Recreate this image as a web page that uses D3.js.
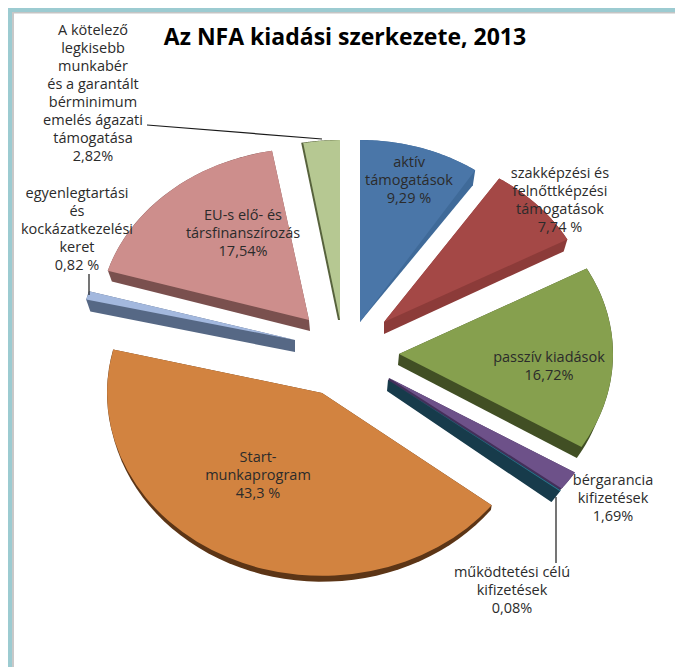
<!DOCTYPE html>
<html>
<head>
<meta charset="utf-8">
<script src="https://cdn.jsdelivr.net/npm/d3@7"></script>
<style>
body { margin: 0; background: #fff; }
text { font-family: "Open Sans", sans-serif; fill: #2b2b2b; }
</style>
</head>
<body>
<script>
var title = "Az NFA kiadási szerkezete, 2013";

var categories = ["aktív támogatások", "szakképzési és felnőttképzési támogatások", "passzív kiadások",
    "bérgarancia kifizetések", "működtetési célú kifizetések", "Start-munkaprogram",
    "egyenlegtartási és kockázatkezelési keret", "EU-s elő- és társfinanszírozás",
    "A kötelező legkisebb munkabér és a garantált bérminimum emelés ágazati támogatása"];
var values = [9.29, 7.74, 16.72, 1.69, 0.08, 43.3, 0.82, 17.54, 2.82];
var valueLabels = ["9,29 %", "7,74 %", "16,72%", "1,69%", "0,08%", "43,3 %", "0,82 %", "17,54%", "2,82%"];
var labelLines = [
    ["aktív", "támogatások"],
    ["szakképzési és", "felnőttképzési", "támogatások"],
    ["passzív kiadások"],
    ["bérgarancia", "kifizetések"],
    ["működtetési célú", "kifizetések"],
    ["Start-", "munkaprogram"],
    ["egyenlegtartási", "és", "kockázatkezelési", "keret"],
    ["EU-s elő- és", "társfinanszírozás"],
    ["A kötelező", "legkisebb", "munkabér", "és a garantált", "bérminimum", "emelés ágazati", "támogatása"]
];
var topColors = ["#4a76a8", "#a44846", "#86a04e", "#6d5189", "#2c7a92", "#d28340", "#a3b8de", "#cd8e8c", "#b6c892"];
var sideColors = ["#3f6a99", "#8c3b39", "#414f24", "#43305a", "#173b4b", "#5c3516", "#566885", "#7a504e", "#57623c"];

// every slice was pulled out by hand in the original, so each one has its own tilted ellipse
var layout = [
    { x: 360, y: 322, rx: 209, ry: 182, dx: 0, dy: 0, sx: 0.98, sy: 0.9, lx: 409, ly: 167 },
    { x: 384, y: 322, rx: 209, ry: 172, dx: 0, dy: 12, sx: 0.98, sy: 1, lx: 560, ly: 178 },
    { x: 399, y: 354, rx: 214, ry: 178, dx: -1, dy: 11, sx: 0.98, sy: 1, lx: 549, ly: 362 },
    { x: 389, y: 378, rx: 218, ry: 181, dx: -1, dy: 3, sx: 0.99, sy: 1, lx: 613, ly: 485 },
    { x: 388, y: 380, rx: 218, ry: 181, dx: -1, dy: 11, sx: 0.955, sy: 1, lx: 512, ly: 577 },
    { x: 322, y: 393, rx: 215, ry: 183, dx: 0, dy: 3, sx: 0.995, sy: 1.015, lx: 258, ly: 462 },
    { x: 295, y: 340, rx: 215, ry: 170, dx: 0, dy: 12, sx: 0.98, sy: 1, lx: 77, ly: 198 },
    { x: 309, y: 320, rx: 210, ry: 172, dx: 1, dy: 11, sx: 0.985, sy: 1, lx: 243, ly: 220 },
    { x: 340, y: 320, rx: 209, ry: 180, dx: -2, dy: 0, sx: 1, sy: 1, lx: 93, ly: 35 }
];
var leaders = [
    { i: 8, x1: 147, y1: 125, x2: 322, y2: 139 },
    { i: 6, x1: 89, y1: 274, x2: 89, y2: 295 },
    { i: 4, x1: 556, y1: 497, x2: 556, y2: 563 }
];

var width = 675, height = 667, lineHeight = 18;

var svg = d3.select("body").append("svg")
    .attr("width", width)
    .attr("height", height)
    .style("display", "block");

// page frame of the slide screenshot
svg.append("rect").attr("x", 8).attr("y", 8).attr("width", width - 8).attr("height", 4).attr("fill", "#9ccbd1");
svg.append("rect").attr("x", 8).attr("y", 8).attr("width", 4).attr("height", height - 8).attr("fill", "#9ccbd1");
svg.append("rect").attr("x", 12).attr("y", 12).attr("width", width - 12).attr("height", 1.5).attr("fill", "#c4c4c4");
svg.append("rect").attr("x", 12).attr("y", 12).attr("width", 2).attr("height", height - 12).attr("fill", "#c8c8c8");

var pie = d3.pie().sort(null);
var arcs = pie(values);
var unitArc = d3.arc().innerRadius(0).outerRadius(1);

// apex and rim of a wedge, on its own ellipse, for the top (t = 0) or the lower copy (t = 1)
function wedgePoints(d, p, t) {
    var cx = p.x + p.dx * t, cy = p.y + p.dy * t;
    var rx = p.rx * (1 + (p.sx - 1) * t), ry = p.ry * (1 + (p.sy - 1) * t);
    var pts = [[cx, cy]];
    d3.range(0, 1.0001, 0.02).forEach(function (f) {
        var a = d.startAngle + (d.endAngle - d.startAngle) * f;
        pts.push([cx + rx * Math.sin(a), cy - ry * Math.cos(a)]);
    });
    return pts;
}

var slices = svg.selectAll("g.slice")
    .data(arcs)
    .enter().append("g")
    .attr("class", "slice");

// side wall: hull of the wedge and its lower copy, top face goes over it
slices.append("path")
    .attr("d", function (d, i) {
        return "M" + d3.polygonHull(wedgePoints(d, layout[i], 0).concat(wedgePoints(d, layout[i], 1))).join("L") + "Z";
    })
    .attr("fill", function (d, i) { return sideColors[i]; });

slices.append("path")
    .attr("d", unitArc)
    .attr("fill", function (d, i) { return topColors[i]; })
    .attr("transform", function (d, i) {
        var p = layout[i];
        return "translate(" + p.x + "," + p.y + ") scale(" + p.rx + "," + p.ry + ")";
    });

svg.selectAll("line.leader")
    .data(leaders)
    .enter().append("line")
    .attr("class", "leader")
    .attr("x1", function (d) { return d.x1; })
    .attr("y1", function (d) { return d.y1; })
    .attr("x2", function (d) { return d.x2; })
    .attr("y2", function (d) { return d.y2; })
    .attr("stroke", "#1a1a1a")
    .attr("stroke-width", 1.2);

svg.append("text")
    .attr("x", 345)
    .attr("y", 45)
    .attr("text-anchor", "middle")
    .style("font-size", "23px")
    .style("font-weight", "bold")
    .style("fill", "#000")
    .text(title);

categories.forEach(function (name, i) {
    var p = layout[i];
    var t = svg.append("text")
        .attr("text-anchor", "middle")
        .style("font-size", "14.5px")
        .attr("data-category", name);
    labelLines[i].concat([valueLabels[i]]).forEach(function (line, k) {
        t.append("tspan")
            .attr("x", p.lx)
            .attr("y", p.ly + k * lineHeight)
            .text(line);
    });
});
</script>
</body>
</html>
